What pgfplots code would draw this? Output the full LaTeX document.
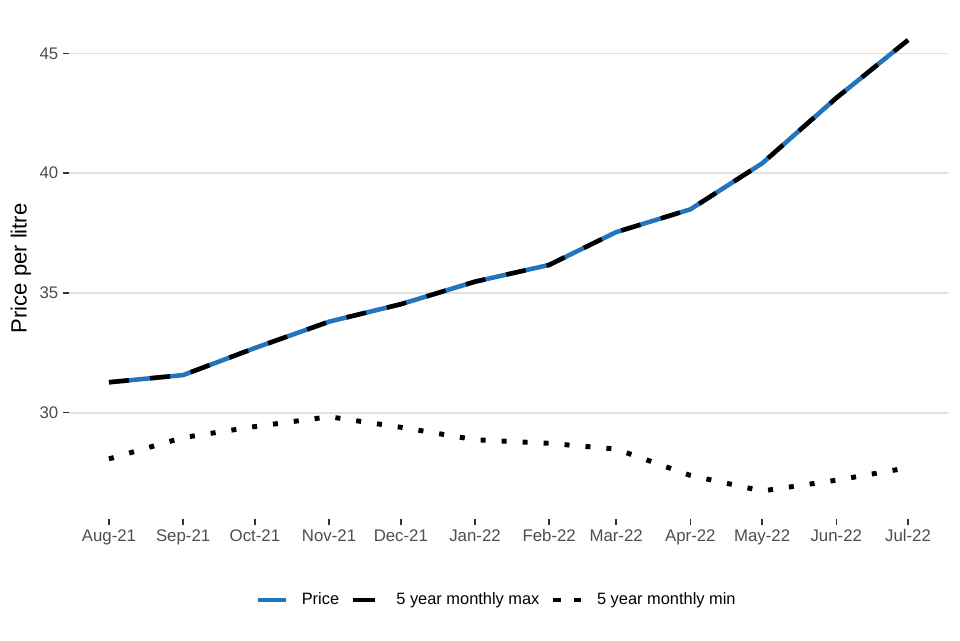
\documentclass[border=0pt]{standalone}
\usepackage{fontspec}
\setmainfont{Liberation Sans}
\usepackage{xcolor}
\usepackage{pgfplots}
\pgfplotsset{compat=1.18}

\definecolor{priceblue}{RGB}{36,116,188}
\definecolor{gridgrey}{RGB}{225,225,225}
\definecolor{ticktext}{RGB}{77,77,77}
\definecolor{tickmark}{RGB}{51,51,51}

% days since 1 Aug 2021, first of each month
\pgfplotstableread{
day  price  mx     mn
0    31.27  31.27  28.07
31   31.57  31.57  28.96
61   32.70  32.70  29.42
92   33.80  33.80  29.83
122  34.53  34.53  29.39
153  35.47  35.47  28.87
184  36.17  36.17  28.72
212  37.54  37.54  28.48
243  38.49  38.49  27.38
273  40.41  40.41  26.73
304  43.14  43.14  27.18
334  45.56  45.56  27.70
}\fueldata

\begin{document}
\begin{tikzpicture}
\useasboundingbox (0,0) rectangle (720pt,480pt);
\begin{axis}[
    at={(51.75pt,90.75pt)}, anchor=south west,
    scale only axis,
    width=659.25pt, height=376.1pt,
    xmin=-16.7, xmax=350.7,
    ymin=25.56, ymax=46.5,
    xtick={0,31,61,92,122,153,184,212,243,273,304,334},
    xticklabels={Aug-21,Sep-21,Oct-21,Nov-21,Dec-21,Jan-22,Feb-22,Mar-22,Apr-22,May-22,Jun-22,Jul-22},
    ytick={30,35,40,45},
    /pgf/number format/assume math mode=true,
    tick label style={font=\fontsize{12.6}{15}\selectfont, color=ticktext},
    tick pos=left,
    tick align=outside,
    major tick length=4.5pt,
    tick style={color=tickmark, line width=1.1pt},
    axis line style={draw=none},
    ymajorgrids=true,
    grid style={color=gridgrey, line width=1.4pt},
    ylabel={Price per litre},
    ylabel style={font=\fontsize{16.5}{19}\selectfont, color=black,
                  at={(axis description cs:-0.0546,0.5)}, anchor=center},
    legend columns=-1,
    legend style={at={(axis description cs:0.4855,-0.1615)}, anchor=center,
                  draw=none, fill=none,
                  font=\fontsize{12.3}{15}\selectfont,
                  nodes={inner sep=0pt},
                  /tikz/every odd column/.append style={column sep=10pt},
                  /tikz/every even column/.append style={column sep=8.5pt}},
]
\addplot[priceblue, line width=3.4pt, line join=round, line cap=butt,
    legend image code/.code={
        \draw[priceblue, line width=3.4pt] (0pt,0pt) -- (21pt,0pt);}]
    table[x=day, y=price] {\fueldata};
\addlegendentry{Price}
\addplot[black, line width=3.4pt, line join=round, line cap=butt,
    dash pattern=on 15pt off 16pt,
    legend image code/.code={
        \path (0pt,0pt) -- (21pt,0pt);
        \draw[black, solid, line width=3.4pt] (1.5pt,0pt) -- (17pt,0pt);}]
    table[x=day, y=mx] {\fueldata};
\addlegendentry{5 year monthly max}
\addplot[black, line width=3.7pt, line join=round, line cap=butt,
    dash pattern=on 3.75pt off 12pt,
    legend image code/.code={
        \path (0pt,0pt) -- (21pt,0pt);
        \path[fill=black, draw=none] (2.25pt,-1.85pt) rectangle (6pt,1.85pt);
        \path[fill=black, draw=none] (17.25pt,-1.85pt) rectangle (21pt,1.85pt);}]
    table[x=day, y=mn] {\fueldata};
\addlegendentry{5 year monthly min}
\end{axis}
\end{tikzpicture}
\end{document}
